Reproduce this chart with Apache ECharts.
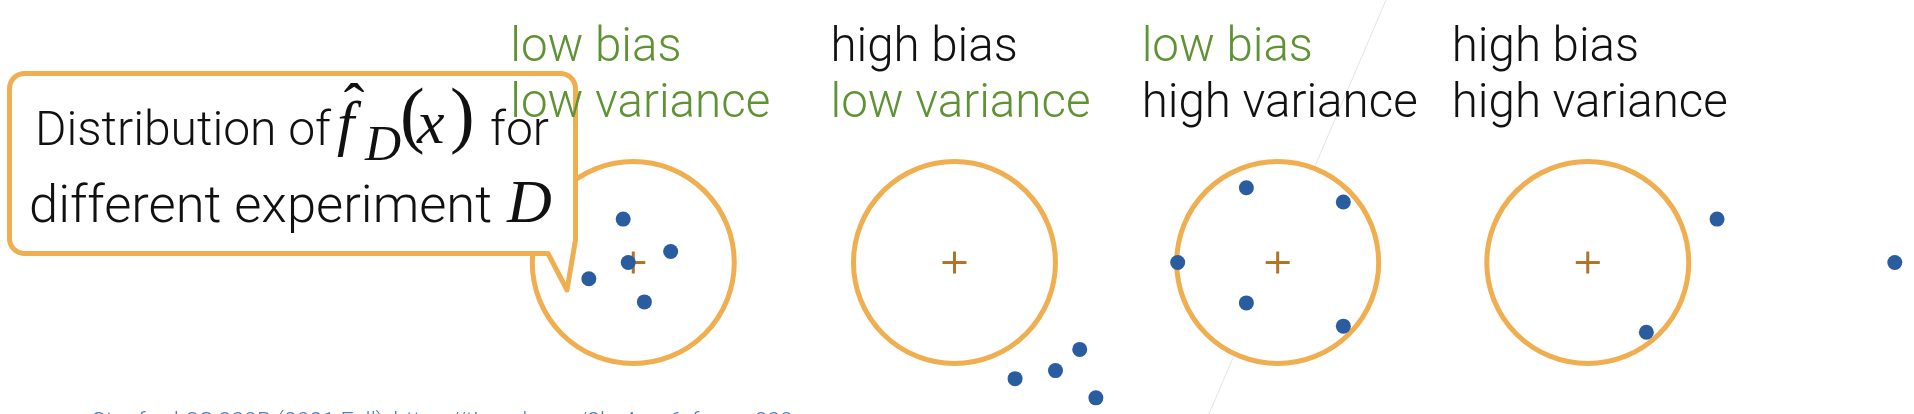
<!DOCTYPE html>
<html>
<head>
<meta charset="utf-8">
<script src="https://cdn.jsdelivr.net/npm/echarts@6/dist/echarts.min.js"></script>
<style>
  html, body { margin: 0; padding: 0; background: #fff; }
  #chart { width: 1914px; height: 414px; }
</style>
</head>
<body>
<div id="chart"></div>
<script>
// target centres along x, in units of the target radius (all targets sit on y = 0)
var targetX = [0, 3.18, 6.38, 9.45];
var biasLabels = ['low bias', 'high bias', 'low bias', 'high bias'];
var varianceLabels = ['low variance', 'low variance', 'high variance', 'high variance'];

// estimates f_D(x) for different experiments D, offset from the target centre
var estimatesA = [[-0.10, 0.43], [0.37, 0.11], [-0.05, 0.00], [-0.44, -0.16], [0.11, -0.39]];
var estimatesB = [[0.60, -1.15], [1.00, -1.07], [1.24, -0.86], [1.40, -1.34]];
var estimatesC = [[-0.99, 0.00], [-0.31, 0.74], [0.65, 0.60], [-0.31, -0.40], [0.65, -0.63]];
var estimatesD = [[0.58, -0.69], [1.28, 0.43], [3.04, 0.00]];
var estimates = [estimatesA, estimatesB, estimatesC, estimatesD];

var GREEN = '#5e9232';
var INK = '#111111';
var ORANGE = '#efae4f';
var BROWN = '#b07427';
var BLUE = '#2a5ca0';

// label left edge relative to target centre (px)
var labelShift = [-123, -124, -136, -136];

var myChart = echarts.init(document.getElementById('chart'));

// canvas 'middle' baseline offset for Roboto / Liberation Serif
function midY(baseline, fs, serif) {
    return baseline - (serif ? 0.3375 : 0.342) * fs;
}

var dots = [];
estimates.forEach(function (list, i) {
    list.forEach(function (p) {
        dots.push([targetX[i] + p[0], p[1]]);
    });
});

var targets = targetX.map(function (x, i) { return [x, 0, i]; });

// speech bubble outline: rounded box with a pointer at the bottom right
function bubblePoints(x0, y0, x1, y1, r) {
    var pts = [];
    function arc(cx, cy, a0, a1) {
        for (var k = 0; k <= 8; k++) {
            var a = a0 + (a1 - a0) * k / 8;
            pts.push([cx + r * Math.cos(a), cy + r * Math.sin(a)]);
        }
    }
    arc(x0 + r, y0 + r, Math.PI, Math.PI * 1.5);
    arc(x1 - r, y0 + r, Math.PI * 1.5, Math.PI * 2);
    pts.push([x1, 240], [567, 290], [548, y1]);
    arc(x0 + r, y1 - r, Math.PI * 0.5, Math.PI);
    return pts;
}

function txt(x, base, text, fs, opt) {
    opt = opt || {};
    var serif = !!opt.serif;
    return {
        type: 'text',
        x: x,
        y: midY(base, fs, serif),
        z: opt.z || 4,
        style: {
            text: text,
            fontFamily: serif ? 'Liberation Serif' : 'Roboto',
            fontSize: fs,
            fontStyle: opt.italic ? 'italic' : 'normal',
            fontWeight: serif ? 'normal' : 300,
            fill: opt.color || INK,
            align: opt.align || 'left',
            verticalAlign: 'middle'
        }
    };
}

var option = {
    animation: false,
    grid: { left: 0, right: 0, top: 0, bottom: 0 },
    xAxis: { type: 'value', min: -6.27, max: 12.68, show: false },
    yAxis: { type: 'value', min: -1.5, max: 2.6, show: false },
    graphic: [
        { type: 'line', z: 0, shape: { x1: 1386, y1: 0, x2: 1209, y2: 414 },
          style: { stroke: '#e4e4e4', lineWidth: 1 } },
        { type: 'polygon', z: 3, shape: { points: bubblePoints(9.5, 73.5, 575.5, 253.5, 15) },
          style: { fill: '#fff', stroke: ORANGE, lineWidth: 5, lineJoin: 'round' } },
        txt(35, 149, 'Distribution of', 48),
        txt(337, 149, 'f', 62, { serif: true, italic: true }),
        txt(354, 131, '\u02C6', 62, { serif: true, align: 'center' }),
        txt(365, 164, 'D', 50, { serif: true, italic: true }),
        txt(400, 145, '(', 74, { serif: true }),
        txt(417, 148, 'x', 62, { serif: true, italic: true }),
        txt(450, 145, ')', 74, { serif: true }),
        txt(490, 149, 'for', 48),
        txt(29, 227, 'different experiment', 52.5),
        txt(507, 227, 'D', 62, { serif: true, italic: true }),
        txt(92, 431, 'Stanford CS 229B (2021 Fall), https://tinyurl.com/3kc4yzz6, for cs 229', 23,
            { color: '#4a7ec6' })
    ],
    series: [
        {
            // the targets: circle of radius 1 plus a cross at the true value
            type: 'custom',
            z: 1,
            data: targets,
            renderItem: function (params, api) {
                var c = api.coord([api.value(0), api.value(1)]);
                var r = api.size([1, 1])[0];
                return {
                    type: 'group',
                    children: [
                        { type: 'circle', shape: { cx: c[0], cy: c[1], r: r },
                          style: { fill: '#fff', stroke: ORANGE, lineWidth: 5 } },
                        { type: 'line', shape: { x1: c[0] - 12, y1: c[1], x2: c[0] + 12, y2: c[1] },
                          style: { stroke: BROWN, lineWidth: 3 } },
                        { type: 'line', shape: { x1: c[0], y1: c[1] - 11, x2: c[0], y2: c[1] + 11 },
                          style: { stroke: BROWN, lineWidth: 3 } }
                    ]
                };
            }
        },
        {
            // bias / variance captions above each target
            type: 'custom',
            z: 4,
            data: targets,
            renderItem: function (params, api) {
                var i = api.value(2);
                var c = api.coord([api.value(0), api.value(1)]);
                var x = c[0] + labelShift[i];
                var fs = 47.5;
                return {
                    type: 'group',
                    children: [
                        { type: 'text', x: x, y: midY(65, fs),
                          style: { text: biasLabels[i], fontFamily: 'Roboto', fontWeight: 300, fontSize: fs,
                                   fill: biasLabels[i].indexOf('low') === 0 ? GREEN : INK,
                                   verticalAlign: 'middle' } },
                        { type: 'text', x: x, y: midY(121, fs),
                          style: { text: varianceLabels[i], fontFamily: 'Roboto', fontWeight: 300, fontSize: fs,
                                   fill: varianceLabels[i].indexOf('low') === 0 ? GREEN : INK,
                                   verticalAlign: 'middle' } }
                    ]
                };
            }
        },
        {
            type: 'scatter',
            z: 5,
            clip: false,
            symbolSize: 15,
            itemStyle: { color: BLUE, opacity: 1 },
            data: dots
        }
    ]
};

myChart.setOption(option);
</script>
</body>
</html>
